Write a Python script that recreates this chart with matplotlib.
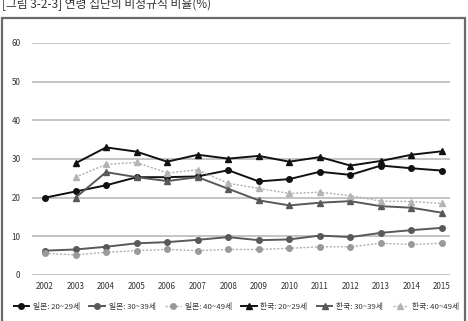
import matplotlib
matplotlib.use("Agg")
import matplotlib.pyplot as plt
from matplotlib.patches import Rectangle

plt.rcParams['font.family'] = ['Noto Sans CJK KR', 'DejaVu Sans']

years = list(range(2002, 2016))
years_kr = list(range(2003, 2016))

jp_20 = [20.0, 21.6, 23.2, 25.3, 25.3, 25.5, 27.1, 24.2, 24.8, 26.7, 25.9, 28.3, 27.6, 27.0]
jp_30 = [6.3, 6.6, 7.3, 8.2, 8.5, 9.1, 9.8, 9.0, 9.2, 10.2, 9.8, 10.9, 11.6, 12.2]
jp_40 = [5.6, 5.2, 5.9, 6.3, 6.6, 6.3, 6.6, 6.6, 6.9, 7.3, 7.3, 8.2, 7.9, 8.2]
kr_20 = [28.9, 33.0, 31.9, 29.3, 31.1, 30.1, 30.8, 29.3, 30.5, 28.3, 29.5, 31.1, 32.0]
kr_30 = [20.0, 26.6, 25.3, 24.3, 25.3, 22.3, 19.3, 18.0, 18.7, 19.1, 17.8, 17.4, 16.1]
kr_40 = [25.3, 28.6, 29.1, 26.4, 27.2, 23.7, 22.4, 21.1, 21.4, 20.5, 19.1, 19.0, 18.5]

labels = ['일본: 20~29세', '일본: 30~39세', '일본: 40~49세',
          '한국: 20~29세', '한국: 30~39세', '한국: 40~49세']
yticks = [0, 10, 20, 30, 40, 50, 60]
title = '[그림 3-2-3] 연령 집단의 비정규직 비율(%)'

W, H = 468, 321
fig = plt.figure(figsize=(W / 100, H / 100), dpi=100)

# frame box
fig.add_artist(Rectangle((1.5 / W, -0.05), (465 - 1.5) / W, (H - 18) / H + 0.05,
                         transform=fig.transFigure, fill=False,
                         edgecolor='#6a6a6a', linewidth=1.6))
fig.text(2 / W, 1 - 8 / H, title, fontsize=8.5, color='#333333',
         ha='left', va='baseline')

ax = fig.add_axes([31.7 / W, (H - 275) / H, (450 - 31.7) / W, (275 - 43) / H])
ax.set_xlim(2002 - (45 - 31.7) / 30.55, 2015 + (450 - 442) / 30.55)
ax.set_ylim(0, 60)
ax.set_yticks(yticks)
ax.set_xticks(years)
for s in ax.spines.values():
    s.set_visible(False)
ax.yaxis.grid(True, color='#c4c4c4', linewidth=1.4)
ax.set_axisbelow(True)
ax.tick_params(length=0, labelsize=5.8, colors='#333333')
ax.tick_params(axis='y', pad=8)
ax.tick_params(axis='x', pad=5)

black = '#111111'
dark = '#595959'
light = '#9a9a9a'
ms = 4

ax.plot(years, jp_20, color=black, lw=1.4, marker='o', ms=ms, label=labels[0])
ax.plot(years, jp_30, color=dark, lw=1.4, marker='o', ms=ms, label=labels[1])
ax.plot(years, jp_40, color='#b0b0b0', lw=1.0, ls=(0, (1.5, 1.2)), marker='o', ms=ms,
        mfc=light, mec=light, label=labels[2])
ax.plot(years_kr, kr_20, color=black, lw=1.4, marker='^', ms=ms, label=labels[3])
ax.plot(years_kr, kr_30, color=dark, lw=1.4, marker='^', ms=ms, label=labels[4])
ax.plot(years_kr, kr_40, color='#b0b0b0', lw=1.0, ls=(0, (1.5, 1.2)), marker='^', ms=ms,
        mfc='#b4b4b4', mec='#b4b4b4', label=labels[5])

fig.legend(loc='center', bbox_to_anchor=(0.505, (H - 307) / H), ncol=6, frameon=False,
           fontsize=5.6, handlelength=2.0, handletextpad=0.5, columnspacing=1.2,
           labelcolor='#333333')

fig.savefig('out.png', dpi=100)
